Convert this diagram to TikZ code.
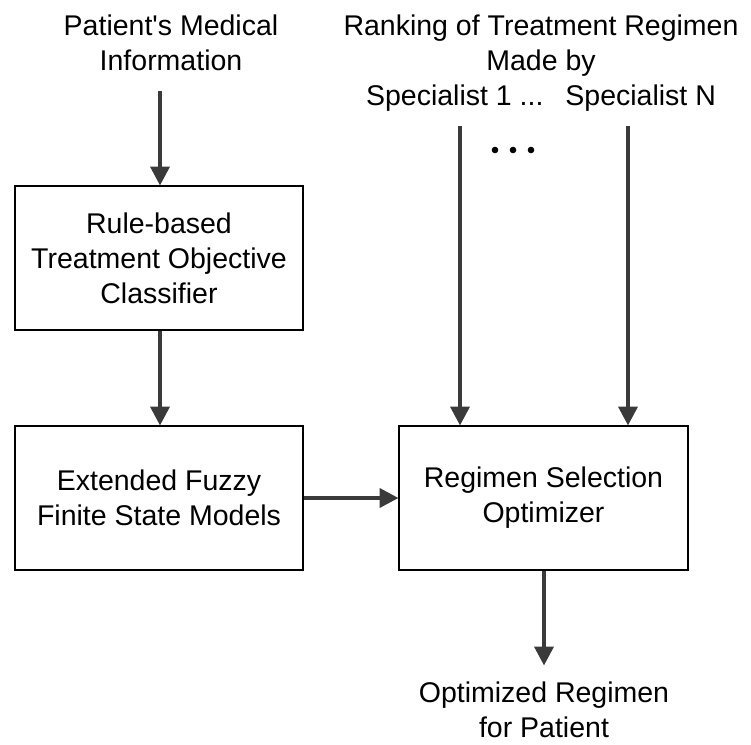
\documentclass[tikz,border=0pt]{standalone}
\usepackage{fontspec}
\setmainfont{Liberation Sans}
\usetikzlibrary{arrows.meta}
\definecolor{arrowgray}{RGB}{58,58,58}
\begin{document}
\begin{tikzpicture}[x=1pt,y=-1pt,
  lbl/.style={font=\fontsize{28.5}{35}\selectfont, align=center, inner sep=0pt},
  blk/.style={lbl, draw=black, line width=2pt, minimum width=288pt, minimum height=144pt},
  flow/.style={draw=arrowgray, line width=4pt, -{Triangle[length=19pt,width=19pt]}, shorten >=-0.5pt}
]
\useasboundingbox (0,0) rectangle (751,744);
% text labels
\node[lbl] (pmi) at (171,42.5) {Patient\textquotesingle s Medical\\Information};
\node[lbl] (rank) at (541,63) {Ranking of Treatment Regimen\\Made by\\Specialist 1 ...\hspace{22pt}Specialist N};
\node[lbl] (out) at (544,710) {Optimized Regimen\\for Patient};
% blocks
\node[blk] (b1) at (159,258) {Rule-based\\Treatment Objective\\Classifier};
\node[blk] (b2) at (159,498) {Extended Fuzzy\\Finite State Models};
\node[blk, minimum width=289pt] (b3) at (543.5,498) {Regimen Selection\\Optimizer};
% free ends
\coordinate (in1) at (160,91);
\coordinate (s1) at (460,126);
\coordinate (sN) at (628,126);
\coordinate (res) at (544,665);
% connectors
\draw[flow] (in1) -- (in1 |- b1.north);
\draw[flow] (b1.south -| in1) -- (in1 |- b2.north);
\draw[flow] (b2.east) -- (b3.west);
\draw[flow] (s1) -- (s1 |- b3.north);
\draw[flow] (sN) -- (sN |- b3.north);
\draw[flow] (b3.south -| res) -- (res);
% dots
\fill[black] (495,150) circle (3.3pt) (513,150) circle (3.3pt) (531,150) circle (3.3pt);
\end{tikzpicture}
\end{document}
